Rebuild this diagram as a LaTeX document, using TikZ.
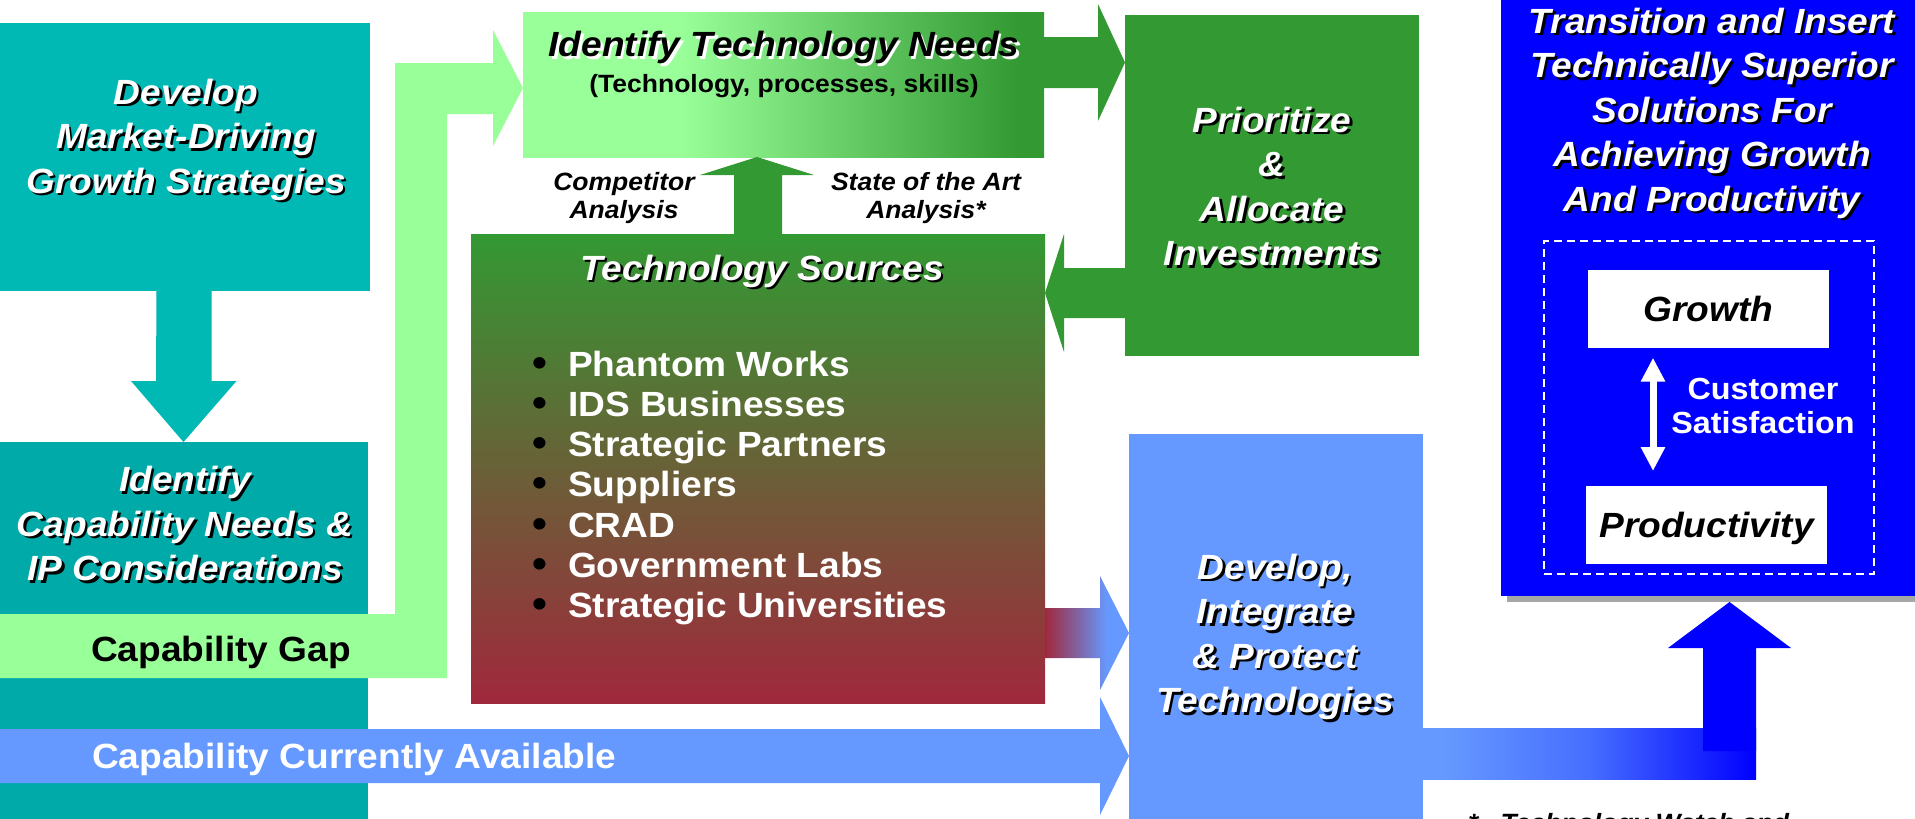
\documentclass[tikz,border=0pt]{standalone}
\usepackage{fontspec}
\setmainfont{Liberation Sans}[FakeStretch=1.06]
\usetikzlibrary{calc,arrows.meta}
\definecolor{tealA}{RGB}{0,184,180}
\definecolor{tealB}{RGB}{0,170,168}
\definecolor{lgreen}{RGB}{153,255,153}
\definecolor{dgreen}{RGB}{51,153,51}
\definecolor{dred}{RGB}{160,40,60}
\definecolor{lblue}{RGB}{102,153,255}
\definecolor{midblue}{RGB}{70,110,255}
\definecolor{fblue}{RGB}{0,0,255}
\definecolor{shgray}{RGB}{166,166,166}
\pgfdeclarehorizontalshading{tnshade}{100bp}{color(0bp)=(lgreen); color(40bp)=(lgreen); color(72.5bp)=(dgreen); color(100bp)=(dgreen)}
\pgfdeclarehorizontalshading{rbshade}{100bp}{color(0bp)=(dred); color(25bp)=(dred); color(62bp)=(lblue); color(100bp)=(lblue)}
\pgfdeclarehorizontalshading{bbshade}{100bp}{color(0bp)=(lblue); color(28bp)=(lblue); color(50bp)=(midblue); color(75bp)=(fblue); color(100bp)=(fblue)}
\newcommand\shtxt[5]{%
  \node[#3,text=#4,xshift=2.5pt,yshift=-2.5pt] (#1-s) at #2 {#5};
  \node[#3] (#1) at #2 {#5};}
\newcommand\bul{\makebox[36pt][l]{\textcolor{black}{\fontsize{40}{40}\selectfont •}}}
\begin{document}
\begin{tikzpicture}[x=1pt,y=-1pt,
  blk/.style={inner sep=0pt,outer sep=0pt,anchor=north west,draw=none},
  bigtxt/.style={inner sep=0pt,outer sep=0pt,align=center,font=\bfseries\itshape\fontsize{35}{44.5}\selectfont},
  wtxt/.style={bigtxt,text=white},
  uprt/.style={inner sep=0pt,outer sep=0pt,font=\bfseries\fontsize{35}{40.2}\selectfont},
  smalltxt/.style={inner sep=0pt,outer sep=0pt,align=center,font=\bfseries\itshape\fontsize{25}{28}\selectfont},
  inbox/.style={blk,fill=white,minimum width=241,minimum height=78,font=\bfseries\itshape\fontsize{35}{40}\selectfont,text height=25pt,text depth=0pt}
]
\useasboundingbox (0,0) rectangle (1915,819);
\clip (0,0) rectangle (1915,819);
\fill[white] (0,0) rectangle (1915,819);

% boxes
\node[blk,fill=tealA,minimum width=370,minimum height=268] (b1) at (0,23) {};
\node[blk,fill=tealB,minimum width=368,minimum height=390] (b2) at (0,442) {};
\node[blk,shade,shading=tnshade,minimum width=521,minimum height=145] (tn) at (523,12) {};
\node[blk,fill=dgreen,minimum width=294,minimum height=341] (pa) at (1125,15) {};
\node[blk,top color=dgreen,bottom color=dred,minimum width=574,minimum height=469] (ts) at (471,234) {};
\node[blk,fill=lblue,minimum width=294,minimum height=400] (di) at (1129,434) {};
\node[blk,fill=shgray,minimum width=420,minimum height=606] (trs) at (1507,-4) {};
\node[blk,fill=fblue,minimum width=420,minimum height=606] (tr) at (1501,-10) {};
\node[blk,draw=white,line width=1.8pt,dash pattern=on 8pt off 5pt,minimum width=330,minimum height=333] (db) at (1544,241) {};
\node[inbox] (gr) at (1588,270) {Growth};
\node[inbox] (pr) at (1586,485.5) {Productivity};

% arrows
\fill[tealA] ($(b1.south)+(-28.5,0)$) -- ++(55,0) -- ++(0,90) -- ++(25,0) -- ($(b2.north)+(-0.5,0)$) -- ($(b1.south)+(-54,90)$) -- ++(25,0) -- cycle;
\fill[lgreen] ($(b2.north west)+(0,172)$) -- (395,614) -- (395,63) -- (493,63) -- (493,30) -- ($(tn.north west)+(0,76)$) -- (493,146) -- (493,114) -- (447,114) -- (447,678) -- ($(b2.north west)+(0,236)$) -- cycle;
\fill[dgreen] ($(tn.north east)+(0,25)$) -- (1098,37) -- (1098,4) -- ($(pa.north west)+(0,47.5)$) -- (1098,121) -- (1098,88) -- ($(tn.north east)+(0,76)$) -- cycle;
\fill[dgreen] ($(pa.north west)+(0,253)$) -- (1064,268) -- (1064,234) -- ($(ts.north east)+(0,59)$) -- (1064,352) -- (1064,318) -- ($(pa.north west)+(0,303)$) -- cycle;
\fill[dgreen] ($(ts.north)+(-24,0)$) -- (734,175) -- (700,175) -- ($(tn.south)+(-26.5,0)$) -- (814,175) -- (782,175) -- ($(ts.north)+(24,0)$) -- cycle;
\shade[shading=rbshade] ($(ts.north east)+(0,374)$) -- (1100,608) -- (1100,576) -- ($(di.north west)+(0,199)$) -- (1100,690) -- (1100,658) -- ($(ts.north east)+(0,424)$) -- cycle;
\fill[lblue] ($(b2.north west)+(0,287)$) -- (1100,729) -- (1100,697) -- ($(di.north west)+(0,322)$) -- (1100,815) -- (1100,783) -- ($(b2.north west)+(0,341)$) -- cycle;
\shade[shading=bbshade] ($(di.north east)+(0,294)$) rectangle (1756,779);
\fill[fblue] (1703,751) -- (1703,648) -- (1668,648) -- ($(trs.south west)+(222.5,0)$) -- (1791,648) -- (1756,648) -- (1756,751) -- cycle;
\draw[white,line width=7pt,{Triangle[width=23pt,length=24pt]}-{Triangle[width=23pt,length=24pt]}] ($(gr.south)+(-55.5,9.7)$) -- ($(pr.north)+(-53.5,-14.5)$);

% texts
\shtxt{t1}{(186,79)}{wtxt,anchor=north}{black}{Develop\\Market-Driving\\Growth Strategies}
\shtxt{t2}{(185,466.5)}{wtxt,anchor=north}{black}{Identify\\Capability Needs \&\\IP Considerations}
\node[uprt,anchor=base] (gapt) at (221,661) {Capability Gap};
\node[uprt,anchor=base west,text=white] (ccat) at (92,768) {Capability Currently Available};
\shtxt{tnt}{(784,56.5)}{bigtxt,anchor=base}{white}{Identify Technology Needs}
\node[inner sep=0pt,font=\bfseries\fontsize{25}{28}\selectfont,anchor=base] (tnsub) at (784,92) {(Technology, processes, skills)};
\node[smalltxt,anchor=north] (comp) at (624,172.5) {Competitor\\Analysis};
\node[smalltxt,anchor=north] (sota) at (926,172.5) {State of the Art\\Analysis*};
\shtxt{tst}{(762,280)}{wtxt,anchor=base}{black}{Technology Sources}
\node[uprt,align=left,anchor=north west,text=white] (tsl) at (532,351) {\bul Phantom Works\\\bul IDS Businesses\\\bul Strategic Partners\\\bul Suppliers\\\bul CRAD\\\bul Government Labs\\\bul Strategic Universities};
\shtxt{pat}{(1272,107)}{wtxt,anchor=north}{black}{Prioritize\\\&\\Allocate\\Investments}
\shtxt{dit}{(1275,554)}{wtxt,anchor=north}{black}{Develop,\\Integrate\\\& Protect\\Technologies}
\shtxt{trt}{(1712,8)}{wtxt,anchor=north}{black}{Transition and Insert\\Technically Superior\\Solutions For\\Achieving Growth\\And Productivity}
\node[inner sep=0pt,align=center,text=white,font=\bfseries\fontsize{30.5}{34.4}\selectfont,anchor=north] (cst) at (1763,377.5) {Customer\\Satisfaction};
\node[inner sep=0pt,font=\bfseries\itshape\fontsize{25}{28}\selectfont,anchor=base west] (fn) at (1468,831) {*\hspace{22pt}Technology Watch and};
\end{tikzpicture}
\end{document}
